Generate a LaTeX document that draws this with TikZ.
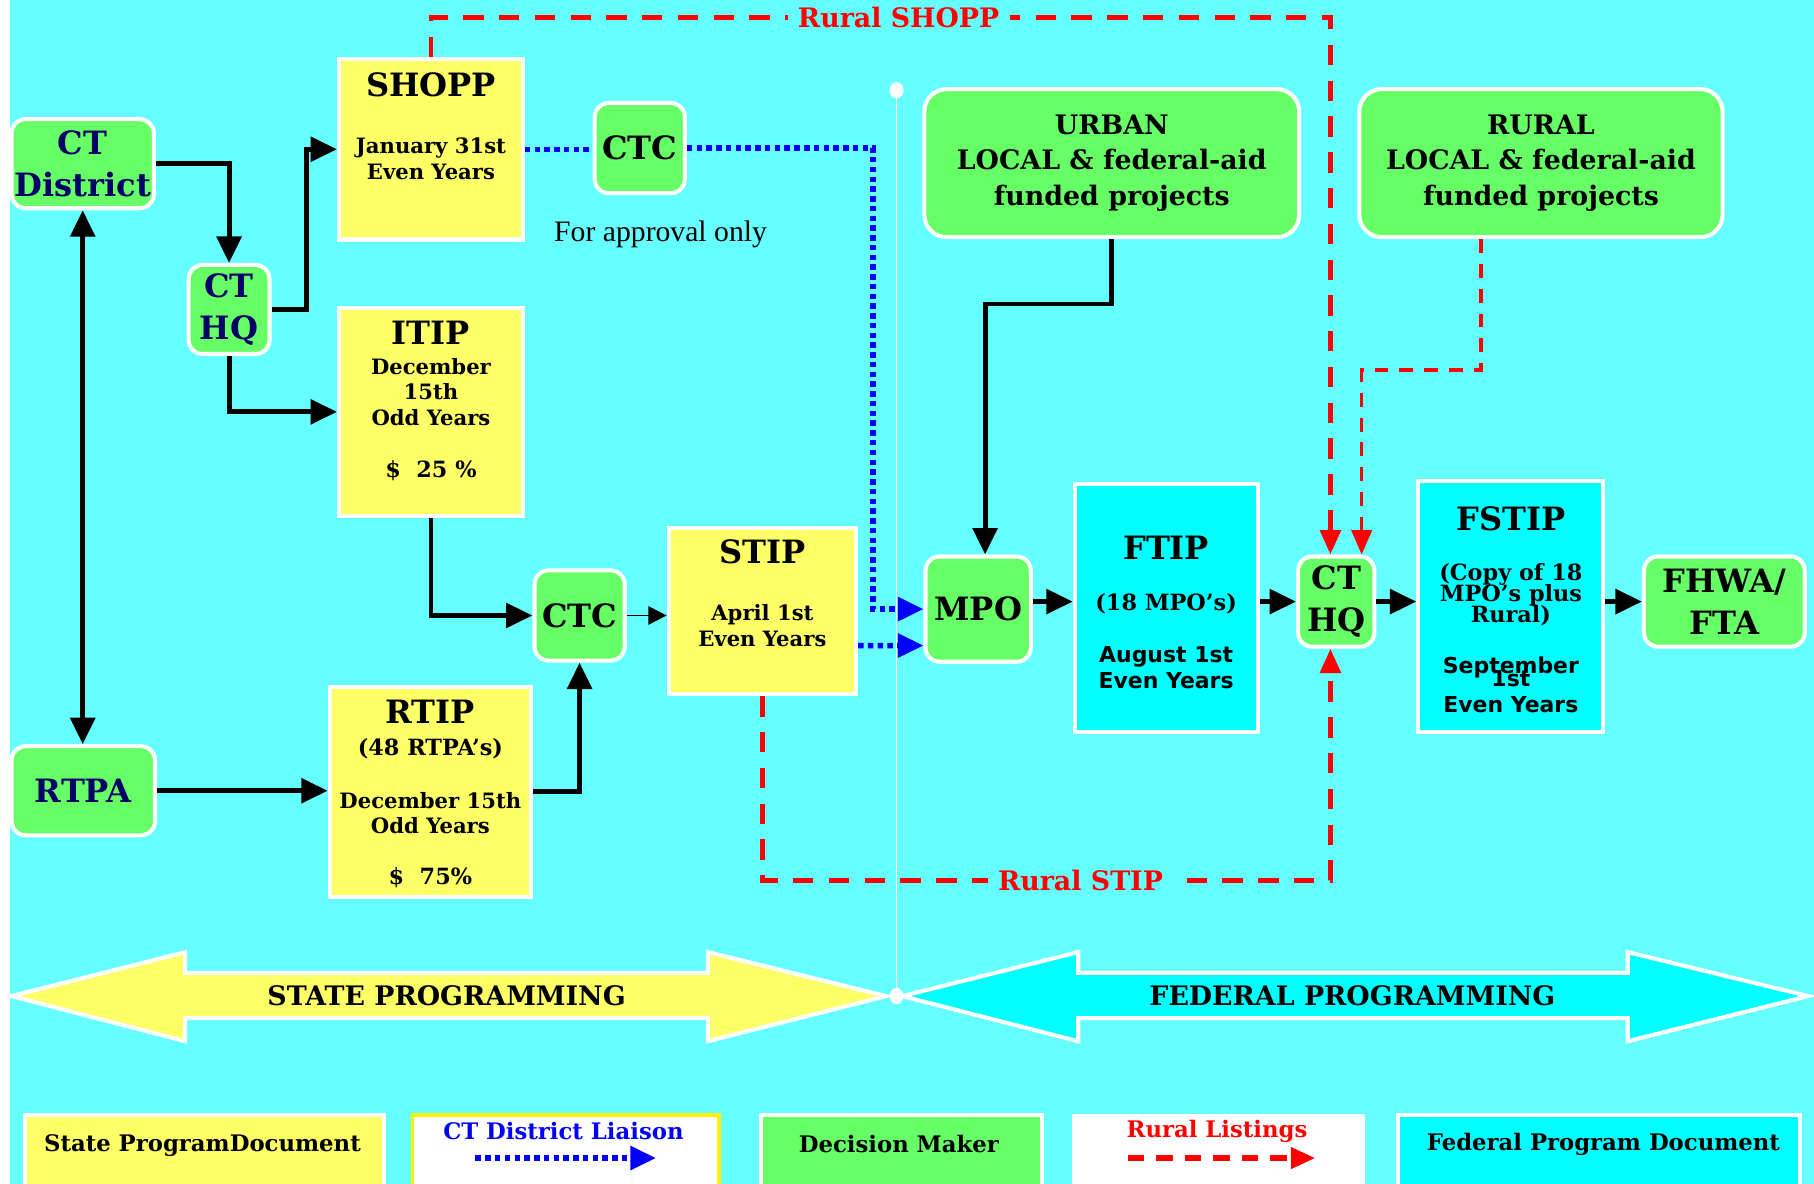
\documentclass[tikz,border=0pt]{standalone}
\usepackage{fontspec}
\setmainfont{DejaVu Serif}
\newfontfamily\timesfont{Liberation Serif}
\newfontfamily\verdfont{DejaVu Sans}
\usepackage{tikz}
\usetikzlibrary{arrows.meta}
\usetikzlibrary{calc}
\usepackage{xcolor}
\definecolor{bgcyan}{HTML}{66FFFF}
\definecolor{docyellow}{HTML}{FFFF66}
\definecolor{makergreen}{HTML}{66FF66}
\definecolor{fedcyan}{HTML}{00FFFF}
\definecolor{navy}{HTML}{000066}
\tikzset{>={Triangle[length=6.5pt,width=6pt]}}
\newcommand{\headf}{\fontsize{7.9}{10.2}\selectfont\bfseries}
\newcommand{\midf}{\fontsize{6.6}{8.8}\selectfont\bfseries}
\newcommand{\bodyf}{\fontsize{5.2}{6.26}\selectfont\bfseries}
\newcommand{\paref}{\fontsize{5.5}{6.26}\selectfont\bfseries}
\newcommand{\sansf}{\verdfont\fontsize{5.4}{6.26}\selectfont\bfseries}
\newcommand{\legf}{\fontsize{5.6}{6.5}\selectfont\bfseries}
\newcommand{\ruralf}{\fontsize{6.6}{8}\selectfont\bfseries}

\begin{document}
\begin{tikzpicture}[x=0.1mm,y=-0.1mm]
  % doc = state program document, fed = federal document, maker = decision maker
  \tikzstyle{doc}=[rectangle, fill=docyellow, draw=white, line width=1pt, inner sep=0pt]
  \tikzstyle{fed}=[doc, fill=fedcyan]
  \tikzstyle{maker}=[rectangle, rounded corners=3.5pt, fill=makergreen, draw=white, line width=1pt, inner sep=0pt, align=center, font=\headf]
  \tikzstyle{doctext}=[inner sep=0pt, align=center, anchor=north, font=\bodyf]
  \tikzstyle{flow}=[->, line width=1.2pt]
  \tikzstyle{liaison}=[blue, line width=1.35pt, dash pattern=on 1.35pt off 1.05pt]
  \tikzstyle{bluehead}=[-{Triangle[length=6.3pt,width=5.7pt]}]
  \tikzstyle{rural}=[red, line width=1.2pt, dash pattern=on 5pt off 3.8pt, -{Triangle[length=6pt,width=5pt]}]
  \tikzstyle{rurallabel}=[fill=bgcyan, inner ysep=1pt, inner xsep=2.5pt, font=\ruralf, text=red]
  \tikzstyle{bigarrow}=[draw=white, line width=1pt]

  \useasboundingbox (0,0) rectangle (1568,1023);
  \fill[white] (0,0) rectangle (1568,1023);
  \fill[bgcyan] (9,0) rectangle (1568,1023);

  % state / federal divide
  \draw[white, line width=0.4pt] (775,78) -- (775,861);
  \filldraw[bigarrow, fill=docyellow] (10,861) -- (160,823) -- (160,841) -- (612,841) -- (612,823)
    -- (766,861) -- (612,900) -- (612,880) -- (160,880) -- (160,900) -- cycle;
  \filldraw[bigarrow, fill=fedcyan] (780,861) -- (932,823) -- (932,841) -- (1407,841) -- (1407,823)
    -- (1563,861) -- (1407,900) -- (1407,880) -- (932,880) -- (932,900) -- cycle;
  \fill[white] (775,78) ellipse (0.6mm and 0.7mm);
  \fill[white] (775,861) ellipse (0.6mm and 0.7mm);
  \node[font=\midf] (stateprog) at (386,861) {STATE PROGRAMMING};
  \node[font=\midf] (fedprog) at (1169,861) {FEDERAL PROGRAMMING};

  % state side
  \node[maker, text=navy, minimum width=12.3mm, minimum height=7.7mm] (ctd) at (71.5,141.5) {CT\\District};
  \node[maker, text=navy, minimum width=7mm, minimum height=7.7mm] (hql) at (198,267.5) {CT\\HQ};
  \node[doc, minimum width=15.9mm, minimum height=15.6mm] (shopp) at (372.5,129) {};
  \node[doctext] (shopptext) at (372.5,62) {{\headf SHOPP}\\[7.8pt]January 31st\\Even Years};
  \node[maker, minimum width=7.8mm, minimum height=7.8mm] (ctct) at (553,128) {CTC};
  \node[font={\timesfont\fontsize{7.3}{8}\selectfont}] (approval) at (571,203) {For approval only};
  \node[doc, minimum width=15.9mm, minimum height=18mm] (itip) at (372.5,356) {};
  \node[doctext] (itiptext) at (372.5,277) {{\headf ITIP}\\[1pt]December\\15th\\Odd Years\\[6.5pt]{\paref\$\ \ 25 \%}};
  \node[maker, minimum width=7.8mm, minimum height=7.8mm] (ctcm) at (501,532) {CTC};
  \node[doc, minimum width=16.2mm, minimum height=14.4mm] (stip) at (659,528) {};
  \node[doctext] (stiptext) at (659,466) {{\headf STIP}\\[7.8pt]April 1st\\Even Years};
  \node[maker, text=navy, minimum width=12.4mm, minimum height=7.7mm] (rtpa) at (72,683.5) {RTPA};
  \node[doc, minimum width=17.4mm, minimum height=18.1mm] (rtip) at (372,684.5) {};
  \node[doctext] (rtiptext) at (372,604) {{\headf RTIP}\\[1.7pt]{\paref(48 RTPA's)}\\[6.8pt]December 15th\\Odd Years\\[6.3pt]{\paref\$\ \ 75\%}};

  % federal side
  \node[maker, font=\midf, rounded corners=5.5pt, minimum width=32.4mm, minimum height=12.8mm] (urban) at (961,141) {URBAN\\LOCAL \& federal-aid\\funded projects};
  \node[maker, font=\midf, rounded corners=5.5pt, minimum width=31.4mm, minimum height=12.8mm] (rural) at (1332,141) {RURAL\\LOCAL \& federal-aid\\funded projects};
  \node[maker, minimum width=9.1mm, minimum height=9.1mm] (mpo) at (845.5,526.5) {MPO};
  \node[fed, minimum width=15.8mm, minimum height=21.5mm] (ftip) at (1008,525.5) {};
  \node[doctext] (ftiptext) at (1008,463) {{\headf FTIP}\\[6.3pt]{\paref(18 MPO's)}\\[6.5pt]{\sansf August 1st}\\{\sansf Even Years}};
  \node[maker, minimum width=6.6mm, minimum height=7.8mm] (hqr) at (1155,520) {CT\\HQ};
  \node[fed, minimum width=16mm, minimum height=21.7mm] (fstip) at (1306,524.5) {};
  \node[doctext] (fstiptext) at (1306,437) {{\headf FSTIP}\\[6pt]{\paref(Copy of 18}\\[-1.1pt]{\paref MPO's plus}\\[-1.1pt]{\paref Rural)}\\[6.3pt]{\sansf September}\\[-2.9pt]{\sansf 1st}\\{\sansf Even Years}};
  \node[maker, minimum width=13.9mm, minimum height=7.8mm] (fhwa) at (1490.5,520) {FHWA/\\FTA};

  % flows
  \draw[flow] (ctd.east) -| (hql.north);
  \draw[flow] (hql.east) -- ++(30,0) |- (shopp.west);
  \draw[flow] (hql.south) |- (itip.west);
  \draw[flow, <->] (ctd.south) -- (ctd.south |- rtpa.north);
  \draw[flow] (itip.south) |- (ctcm.west);
  \draw[flow] (rtpa.east) -- (rtpa.east -| rtip.west);
  \draw[flow] (rtip.east) -| (ctcm.south);
  \draw[line width=0.45pt, -{Triangle[length=4.5pt,width=4.5pt]}] (ctcm.east) -- (ctcm.east -| stip.west);
  \draw[flow] (urban.south) -- ++(0,56) -| ($(mpo.north)+(6,0)$);
  \draw[flow] (mpo.east |- hqr.west) -- (ftip.west |- hqr.west);
  \draw[flow] (ftip.east |- hqr.west) -- (hqr.west);
  \draw[flow] (hqr.east) -- (fstip.west |- hqr.east);
  \draw[flow] (fstip.east |- fhwa.west) -- (fhwa.west);

  % liaison
  \draw[liaison] (shopp.east) -- (shopp.east -| ctct.west);
  \draw[liaison, bluehead] (ctct.east) -- ++(161,0) |- (mpo.west);
  \draw[liaison, bluehead] ($(stip.east)+(0,30)$) -- ($(mpo.west)+(0,31.5)$);

  % rural listings
  \draw[rural] (shopp.north) -- ++(0,-34) -| node[rurallabel, pos=0.26] (rshopp) {Rural SHOPP} ($(hqr.north)+(-5,0)$);
  \draw[rural, line width=0.85pt, dash pattern=on 3.4pt off 2.7pt] ($(rural.south)+(-52,0)$) -- ++(0,113) -| ($(hqr.north)+(22,0)$);
  \draw[rural] (stip.south) -- ++(0,159) -| node[rurallabel, pos=0.28] (rstip) {Rural STIP} ($(hqr.south)+(-5,0)$);

  % legend
  \node[doc, minimum width=31mm, minimum height=7mm, anchor=north west] (legdoc) at (20,962) {};
  \node[font=\legf] (legdoctext) at (175,990) {State ProgramDocument};
  \node[rectangle, fill=white, draw=yellow, line width=0.9pt, minimum width=26.5mm, minimum height=7mm, anchor=north west] (leglia) at (355,962) {};
  \node[font=\legf, text=blue] (legliatext) at (487,978) {CT District Liaison};
  \coordinate (liastart) at (411,1001);
  \coordinate (liaend) at (567,1001);
  \draw[liaison, bluehead] (liastart) -- (liaend);
  \node[maker, rounded corners=0pt, minimum width=24.3mm, minimum height=7mm, anchor=north west] (legmaker) at (656,962) {};
  \node[font=\legf] (legmakertext) at (777,989) {Decision Maker};
  \node[rectangle, fill=white, minimum width=25.3mm, minimum height=7mm, anchor=north west] (legrural) at (926,962) {};
  \node[font=\legf, text=red] (legruraltext) at (1052,978) {Rural Listings};
  \coordinate (rurstart) at (975,1001);
  \coordinate (rurend) at (1137,1001);
  \draw[rural, line width=1.4pt, dash pattern=on 4pt off 3pt] (rurstart) -- (rurend);
  \node[fed, minimum width=34.7mm, minimum height=7mm, anchor=north west] (legfed) at (1207,962) {};
  \node[font=\legf] (legfedtext) at (1386,989) {Federal Program Document};
\end{tikzpicture}
\end{document}
